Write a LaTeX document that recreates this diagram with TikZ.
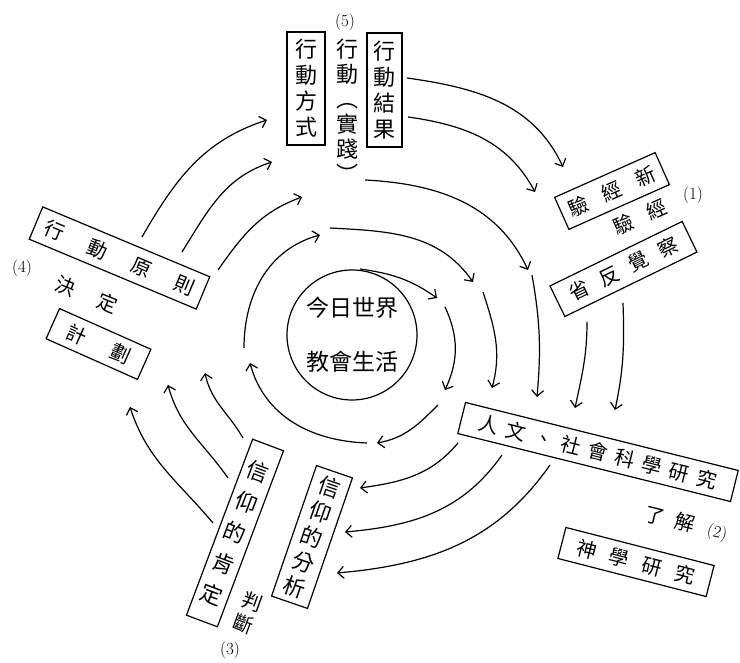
\documentclass[tikz,border=0pt]{standalone}
\usepackage{fontspec}
\newfontfamily\cjk{Noto Sans CJK TC}
\usetikzlibrary{arrows.meta}
\begin{document}
\begin{tikzpicture}[x=1pt,y=1pt,
  arc/.style={line width=1.2pt,-{Straight Barb[length=6pt,width=12pt]}},
  cbox/.style={draw,line width=1.2pt,inner sep=0pt,font=\cjk\fontsize{20}{26}\selectfont},
  vbox/.style={draw,line width=1.2pt,inner sep=0pt,align=center},
  ctext/.style={inner sep=0pt,font=\cjk\fontsize{20}{26}\selectfont},
  lab/.style={inner sep=0pt,font=\fontsize{17}{19}\selectfont}]
\useasboundingbox (0,0) rectangle (740,663);

% centre
\node[draw,circle,line width=1.2pt,minimum size=130pt,inner sep=0pt,align=center,
      font=\cjk\fontsize{23}{54}\selectfont] (core) at (352,328) {今日世界\\教會生活};

% top
\node[vbox,minimum width=38pt,minimum height=113pt,font=\cjk\fontsize{22}{26}\selectfont]
  (fs) at (306,574.5) {行\\動\\方\\式};
\node[vbox,minimum width=35pt,minimum height=114pt,font=\cjk\fontsize{22}{26}\selectfont]
  (fr) at (384.5,573) {行\\動\\結\\果};
\node[lab] (n5) at (345,641) {(5)};
\node[inner sep=0pt,align=center,font=\cjk\fontsize{22}{25}\selectfont]
  (fp) at (347,552) {行\\動\\︵\\實\\踐\\︶};

% right upper (1)
\node[cbox,rotate=24,minimum width=110pt,minimum height=35pt] (nx) at (612,472)
  {驗\hspace{17pt}經\hspace{17pt}新};
\node[ctext,rotate=24] (ex) at (640,446) {驗\hspace{17pt}經};
\node[lab] (n1) at (693,468) {(1)};
\node[cbox,rotate=26,minimum width=147pt,minimum height=34pt] (fa) at (623.5,394)
  {省\hspace{13pt}反\hspace{13pt}覺\hspace{13pt}察};

% left (4)
\node[cbox,rotate=-22.7,minimum width=181pt,minimum height=35pt] (pr) at (119.5,405)
  {行\hspace{27pt}動\hspace{27pt}原\hspace{27pt}則};
\node[lab] (n4) at (22,395) {(4)};
\node[ctext,rotate=-22] (dc) at (86.5,368) {決\hspace{26pt}定};
\node[cbox,rotate=-24,minimum width=100pt,minimum height=33pt] (pl) at (98.5,319)
  {計\hspace{28pt}劃};

% right lower (2)
\node[cbox,rotate=-14,minimum width=281pt,minimum height=32pt] (hs) at (598,211)
  {人\hspace{8pt}文\hspace{8pt}、\hspace{8pt}社\hspace{8pt}會\hspace{8pt}科\hspace{8pt}學\hspace{8pt}研\hspace{8pt}究};
\node[ctext,rotate=-14] (ud) at (670,144) {了\hspace{11pt}解};
\node[lab,rotate=-14] (n2) at (717,130) {(2)};
\node[cbox,rotate=-14.4,minimum width=153pt,minimum height=32pt] (th) at (636,101)
  {神\hspace{14pt}學\hspace{14pt}研\hspace{14pt}究};

% bottom (3)
\node[vbox,rotate=-19,minimum width=38pt,minimum height=138pt,font=\cjk\fontsize{22}{26.5}\selectfont]
  (an) at (312,126) {信\\仰\\的\\分\\析};
\node[vbox,rotate=-20.6,minimum width=33pt,minimum height=188pt,font=\cjk\fontsize{22}{33}\selectfont]
  (af) at (235,130) {信\\仰\\的\\肯\\定};
\node[inner sep=0pt,align=center,rotate=-20,font=\cjk\fontsize{20}{24}\selectfont]
  (jd) at (248,50) {判\\斷};
\node[lab] (n3) at (230,13) {(3)};

% arcs
\foreach \n/\sx/\sy/\ex/\ey/\o/\i in {
  t1/407/585/563/496/-8/115,
  t2/408/546/535/471/-8/118,
  t3/365/483/528/393/-3/115,
  t4/330/435/473/381/-3/125,
  t5/360/394/437/365/-8/145,
  ra/445/356/445/273/-65/65,
  rb/483/371/492/275/-72/75,
  rc/532/388/537/266/-80/85,
  rd/587/341/575/255/-90/78,
  re/623/360/615/253/-88/78,
  bf/438/258/377/220/-135/10,
  bg/458/220/360/175/-130/8,
  bh/502/208/345/131/-125/5,
  bi/550/198/337/90/-125/5,
  lm/367/220/250/300/178/-75,
  ll/243/225/205/290/120/-78,
  lk/228/185/168/278/125/-75,
  lj/213/140/130/256/130/-72,
  uq/244/315/320/428/90/195,
  up/218/393/302/466/55/200,
  uo/182/411/272/501/58/198,
  un/142/426/267/543/60/198}{
  \coordinate (\n s) at (\sx,\sy);
  \coordinate (\n e) at (\ex,\ey);
  \draw[arc] (\n s) to[out=\o,in=\i] (\n e);
}
\end{tikzpicture}
\end{document}
